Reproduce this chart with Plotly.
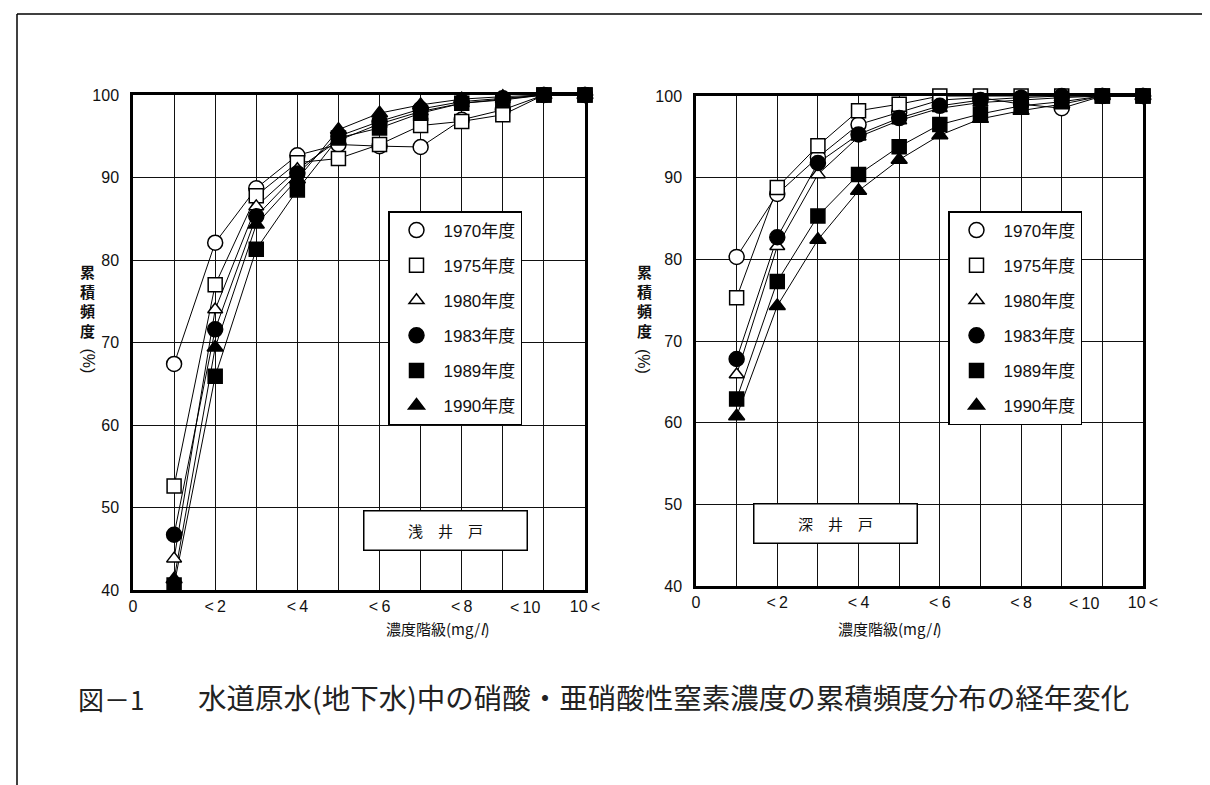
import plotly.graph_objects as go

# ---------------- data ----------------
x_classes = [1, 2, 3, 4, 5, 6, 7, 8, 9, 10, 11]   # <1, <2, ... <10, 10<
tick_pos = [0, 2, 4, 6, 8, 10, 11]
tick_text = ["0", "<\u20092", "<\u20094", "<\u20096", "<\u20098", "", "10\u2009<"]
label_lt10 = "<\u200910"          # label of the "<10" class (drawn slightly left of its line)
years = ["1970年度", "1975年度", "1980年度", "1983年度", "1989年度", "1990年度"]

# 浅井戸 (shallow wells) cumulative frequency (%)
shallow_1970 = [67.4, 82.1, 88.7, 92.7, 94.0, 93.8, 93.7, 97.0, 98.2, 100, 100]
shallow_1975 = [52.6, 77.0, 87.8, 91.8, 92.3, 94.0, 96.3, 96.8, 97.6, 100, 100]
shallow_1980 = [43.8, 74.0, 86.5, 91.0, 94.5, 96.5, 98.0, 99.0, 99.5, 100, 100]
shallow_1983 = [46.7, 71.6, 85.3, 90.5, 95.0, 96.8, 98.3, 99.2, 99.6, 100, 100]
shallow_1989 = [40.6, 65.9, 81.3, 88.5, 94.8, 96.0, 97.8, 99.0, 99.4, 100, 100]
shallow_1990 = [41.3, 69.4, 84.3, 89.8, 95.8, 97.8, 98.8, 99.5, 99.8, 100, 100]

# 深井戸 (deep wells) cumulative frequency (%)
deep_1970 = [80.3, 88.0, 92.5, 96.5, 98.0, 99.5, 99.8, 99.0, 98.5, 100, 100]
deep_1975 = [75.3, 88.8, 93.9, 98.2, 99.0, 100, 100, 100, 100, 100, 100]
deep_1980 = [65.9, 81.6, 90.4, 95.0, 97.0, 98.5, 99.2, 99.5, 99.8, 100, 100]
deep_1983 = [67.8, 82.7, 91.8, 95.3, 97.3, 98.8, 99.5, 99.8, 100, 100, 100]
deep_1989 = [62.9, 77.3, 85.3, 90.4, 93.8, 96.5, 97.8, 98.8, 99.3, 100, 100]
deep_1990 = [60.8, 74.3, 82.4, 88.4, 92.2, 95.2, 97.2, 98.2, 99.0, 100, 100]

shallow = [shallow_1970, shallow_1975, shallow_1980, shallow_1983, shallow_1989, shallow_1990]
deep = [deep_1970, deep_1975, deep_1980, deep_1983, deep_1989, deep_1990]

# ---------------- styling ----------------
W, H = 1210, 785
def px(x):
    return x / W
def py(y):
    return 1 - y / H

symbols = ["circle", "square", "triangle-up", "circle", "square", "triangle-up"]
fills = ["white", "white", "white", "black", "black", "black"]
sizes = [15, 14, 13, 15, 14, 14]

CJK = "Noto Sans CJK JP"
NUM = "Liberation Sans, Noto Sans CJK JP"

fig = go.Figure()

def add_series(data, xa, ya, legend_name):
    # connecting lines first (not in legend)
    for i, vals in enumerate(data):
        fig.add_trace(go.Scatter(
            x=x_classes, y=vals, mode="lines", xaxis=xa, yaxis=ya,
            showlegend=False, hoverinfo="skip",
            line=dict(color="black", width=1), cliponaxis=False,
        ))
    # markers (legend entries)
    for i, (vals, name) in enumerate(zip(data, years)):
        fig.add_trace(go.Scatter(
            x=x_classes, y=vals, name=name, mode="markers",
            xaxis=xa, yaxis=ya, legend=legend_name,
            legendgroup=legend_name + str(i),
            marker=dict(symbol=symbols[i], size=sizes[i], color=fills[i],
                        line=dict(color="black", width=1.5)),
            cliponaxis=False,
        ))

add_series(shallow, "x", "y", "legend")
add_series(deep, "x2", "y2", "legend2")

axis_common_x = dict(
    range=[0, 11], tickmode="array", tickvals=tick_pos, ticktext=tick_text,
    tickangle=0,
    showgrid=False, zeroline=False, ticks="",
    minor=dict(tick0=0, dtick=1, showgrid=True, gridcolor="#111", gridwidth=1.3),
    showline=True, linecolor="black", linewidth=2.5, mirror=True,
    tickfont=dict(family=NUM, size=16, color="#111"),
    ticklabelstandoff=0, automargin=False,
)
axis_common_y = dict(
    range=[40, 100], tickmode="array", tickvals=[40, 50, 60, 70, 80, 90, 100],
    showgrid=True, gridcolor="#111", gridwidth=1.3, zeroline=False, ticks="",
    showline=True, linecolor="black", linewidth=2.5, mirror=True,
    tickfont=dict(family=NUM, size=16, color="#111"),
    ticklabelstandoff=8, automargin=False,
)

legend_common = dict(xanchor="left", yanchor="top",
                     bgcolor="white", bordercolor="black", borderwidth=1.5,
                     font=dict(family=NUM, size=17, color="#111"),
                     tracegroupgap=10, itemwidth=44, itemclick=False,
                     itemdoubleclick=False)

fig.update_layout(
    width=W, height=H, margin=dict(l=0, r=0, t=0, b=0),
    paper_bgcolor="white", plot_bgcolor="white",
    xaxis=dict(domain=[px(125), px(577)], anchor="y", **axis_common_x),
    yaxis=dict(domain=[py(582), py(87)], anchor="x", **axis_common_y),
    xaxis2=dict(domain=[px(688), px(1135)], anchor="y2", **axis_common_x),
    yaxis2=dict(domain=[py(578), py(88)], anchor="x2", **axis_common_y),
    legend=dict(x=px(380), y=py(203), **legend_common),
    legend2=dict(x=px(940), y=py(203), **legend_common),
    showlegend=True,
)

ann = []
# "<10" tick labels, nudged left of the gridline as in the original
for xr, cy in [("x", 610), ("x2", 606)]:
    ann.append(dict(x=9.55, y=py(cy), xref=xr, yref="paper", text=label_lt10,
                    showarrow=False, font=dict(family=NUM, size=16, color="#111")))
# panel labels
for cx, cy, txt in [(355, 543, "浅　井　戸"), (910, 536, "深　井　戸")]:
    ann.append(dict(x=px(cx), y=py(cy), xref="paper", yref="paper", text=txt,
                    showarrow=False, font=dict(family=CJK, size=15, color="#111"),
                    bgcolor="white", bordercolor="black", borderwidth=1.5,
                    width=162, height=38, borderpad=0))
# y titles
for cx in (70, 636):
    ann.append(dict(x=px(cx), y=py(293), xref="paper", yref="paper",
                    text="<b>累<br>積<br>頻<br>度</b>", showarrow=False,
                    font=dict(family=CJK, size=15, color="#111")))
    ann.append(dict(x=px(cx), y=py(353), xref="paper", yref="paper",
                    text="(%)", textangle=90, showarrow=False,
                    font=dict(family=NUM, size=16, color="#111")))
# x titles
for cx, cy in [(376, 633), (935, 633)]:
    ann.append(dict(x=px(cx), y=py(cy), xref="paper", yref="paper",
                    text="濃度階級(mg/<i>l</i>)", showarrow=False,
                    font=dict(family=CJK, size=15, color="#111")))
# caption
ann.append(dict(x=px(68), y=py(711), xref="paper", yref="paper", xanchor="left",
                text="図－1", showarrow=False,
                font=dict(family=CJK, size=26, color="#222")))
ann.append(dict(x=px(188), y=py(711), xref="paper", yref="paper", xanchor="left",
                text="水道原水(地下水)中の硝酸・亜硝酸性窒素濃度の累積頻度分布の経年変化",
                showarrow=False, font=dict(family=CJK, size=28.5, color="#222")))
fig.update_layout(annotations=ann)

# page frame lines (top and left)
fig.update_layout(shapes=[
    dict(type="line", xref="paper", yref="paper", x0=px(9), x1=1, y0=py(6), y1=py(6),
         line=dict(color="black", width=1.5)),
    dict(type="line", xref="paper", yref="paper", x0=px(9), x1=px(9), y0=py(6), y1=0,
         line=dict(color="black", width=1.5)),
])

fig.write_html("out.html")
